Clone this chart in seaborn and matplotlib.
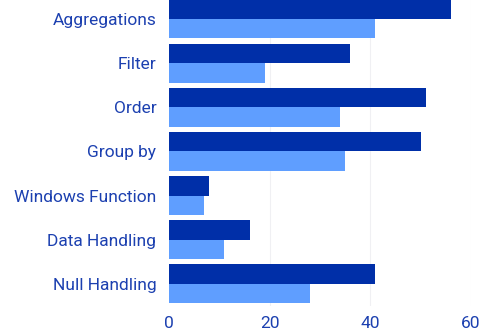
import matplotlib
matplotlib.use("Agg")
import matplotlib.pyplot as plt
import seaborn as sns
import pandas as pd

categories = ["Aggregations", "Filter", "Order", "Group by",
              "Windows Function", "Data Handling", "Null Handling"]
series_a = [56, 36, 51, 50, 8, 16, 41]
series_b = [41, 19, 34, 35, 7, 11, 28]
series_names = ["Series A", "Series B"]
x_ticks = [0, 20, 40, 60]

df = pd.DataFrame({
    "category": categories * 2,
    "value": series_a + series_b,
    "series": [series_names[0]] * len(categories) + [series_names[1]] * len(categories),
})

sns.set_theme(style="white")
plt.rcParams["font.family"] = ["Roboto", "DejaVu Sans"]

text_color = "#1c40b0"
fig = plt.figure(figsize=(4.85, 3.33), dpi=100)
ax = fig.add_axes([169 / 485, 27 / 333, (471 - 169) / 485, 306 / 333])

sns.barplot(data=df, y="category", x="value", hue="series", orient="h",
            order=categories, hue_order=series_names,
            palette=["#002fa8", "#5f9eff"], saturation=1, width=0.88,
            legend=False, linewidth=0, ax=ax)

ax.set_xlim(0, 60)
ax.set_ylim(6.5, -0.43)
ax.set_xticks(x_ticks)
ax.set_xticklabels([str(t) for t in x_ticks])
for x in x_ticks[1:]:
    ax.axvline(x, color="#f0f0f3", lw=0.8, zorder=0)
ax.set_xlabel("")
ax.set_ylabel("")
for s in ax.spines.values():
    s.set_visible(False)
ax.tick_params(axis="both", length=0, labelsize=12.5, labelcolor=text_color)
ax.tick_params(axis="y", pad=9)
ax.tick_params(axis="x", pad=7)
for lbl in ax.get_xticklabels() + ax.get_yticklabels():
    lbl.set_color(text_color)

fig.savefig("out.png", dpi=100)
